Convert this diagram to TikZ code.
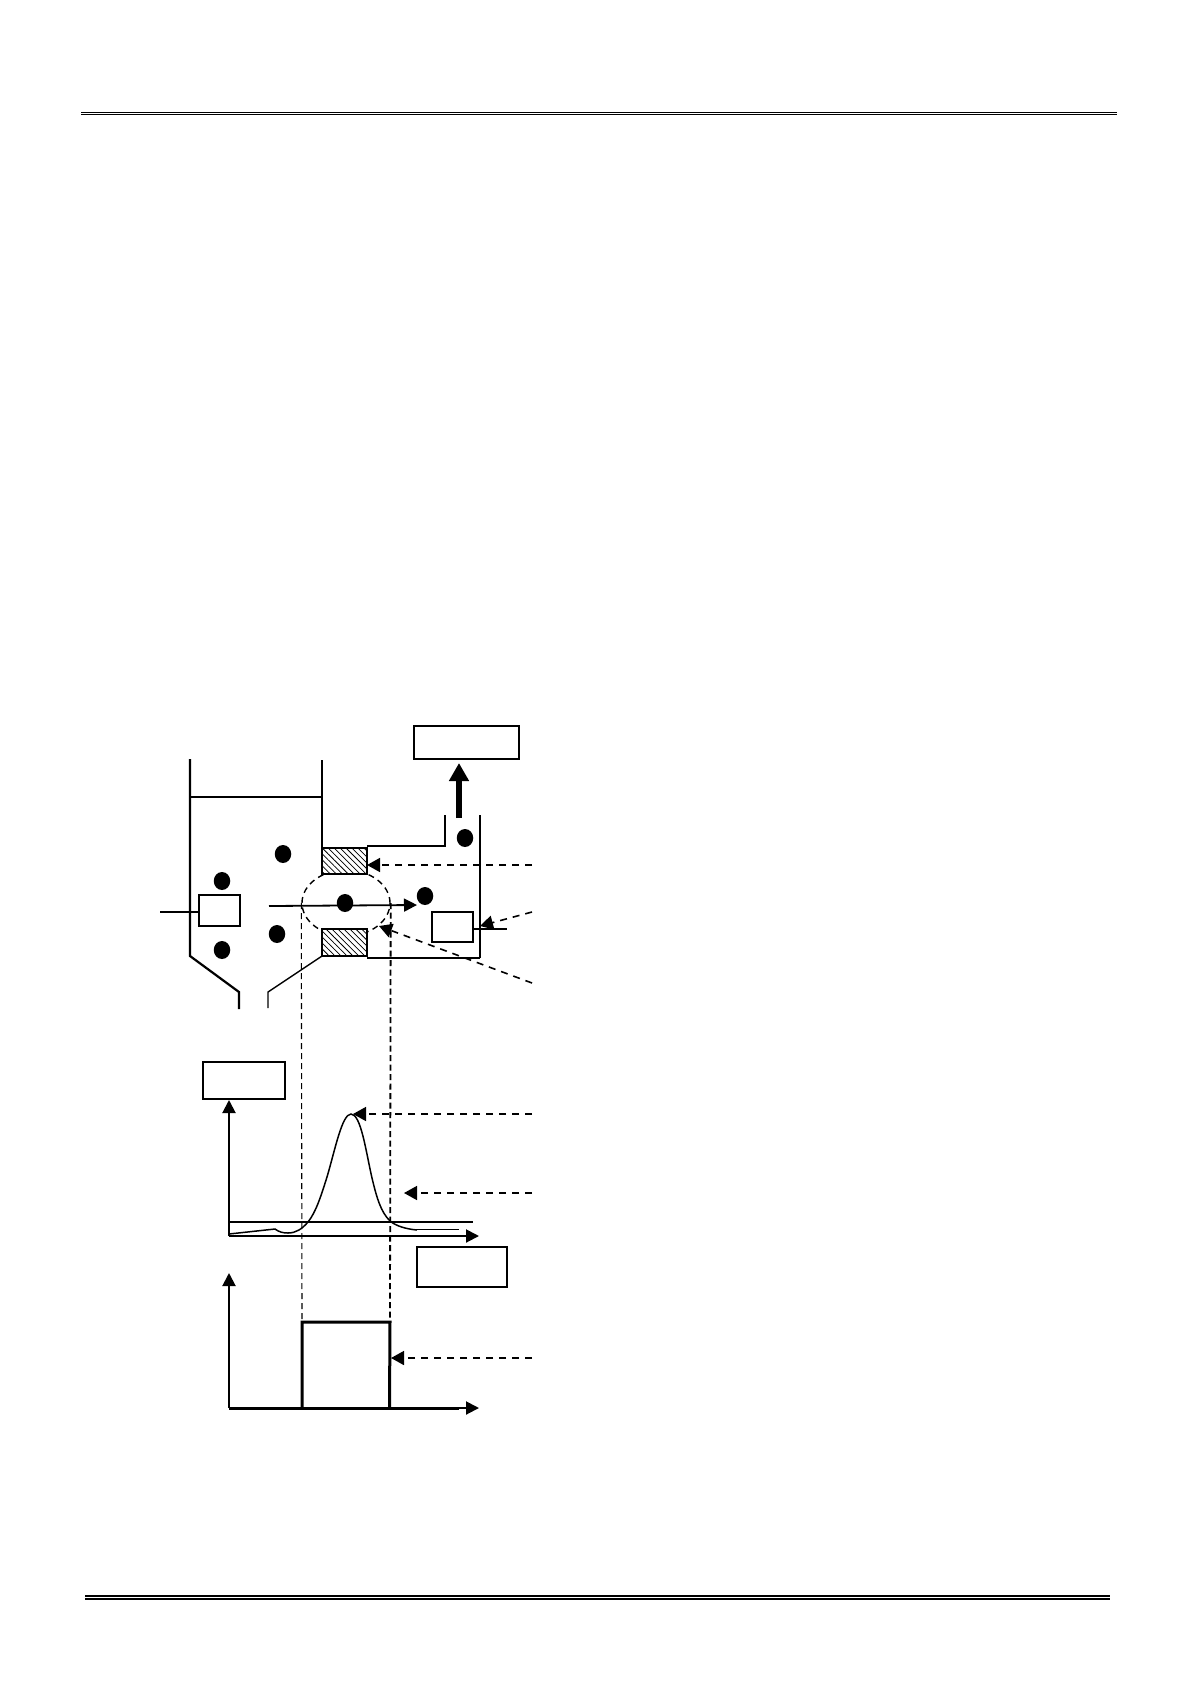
\documentclass[tikz,border=0pt]{standalone}
\usetikzlibrary{arrows.meta,patterns.meta,shapes.geometric}
\tikzset{
  wall/.style={line width=1.4pt,line cap=butt,line join=miter},
  wallthick/.style={line width=2.2pt,line join=miter},
  labelbox/.style={draw,line width=1.4pt,fill=white,inner sep=0pt},
  bead/.style={ellipse,fill=black,inner sep=0pt,minimum width=16.5pt,minimum height=18pt},
  hatch/.style={draw,line width=1.6pt,fill=white,postaction={pattern={Lines[angle=-45,distance=4.2pt,line width=.75pt]}},inner sep=0pt,minimum width=45pt},
  leader/.style={dash pattern=on 7pt off 6pt,line width=1.6pt,-{Triangle[length=13pt,width=14pt]}},
  guide/.style={dash pattern=on 6pt off 4pt,line width=1.1pt},
  guidebold/.style={dash pattern=on 6pt off 3.5pt,line width=1.8pt},
  axis/.style={line width=2pt,-{Triangle[length=13pt,width=13pt]}},
  pulse/.style={line width=3pt,line join=miter},
}
\begin{document}
\begin{tikzpicture}[x=1pt,y=-1pt]
\useasboundingbox (0,0) rectangle (1191,1684);
\fill[white] (0,0) rectangle (1191,1684);

% page rules
\coordinate (hl) at (81,112.4); \coordinate (hr) at (1117,112.4);
\coordinate (hlb) at (81,114.6); \coordinate (hrb) at (1117,114.6);
\coordinate (fl) at (85,1596); \coordinate (fr) at (1110,1596);
\coordinate (flb) at (85,1599.3); \coordinate (frb) at (1110,1599.3);
\draw[line width=1pt] (hl) -- (hr);
\draw[line width=1pt] (hlb) -- (hrb);
\draw[line width=2pt] (fl) -- (fr);
\draw[line width=2pt] (flb) -- (frb);

% tank
\draw[wallthick] (190,759) -- (190,956) -- (239,992) -- (239,1009);
\draw[wall] (322,760) -- (322,848);
\draw[wall] (190,797) -- (322,797);
\draw[wall] (322,956) -- (268,992) -- (268,1008);

% right chamber
\draw[wall] (367,846) -- (445,846) -- (445,815);
\draw[wallthick] (480,815) -- (480,958);
\draw[wall] (480,958) -- (367,958);

% dashed guides and observation zone
\node[ellipse,draw,dash pattern=on 6pt off 4.5pt,line width=1.4pt,minimum width=88pt,minimum height=66pt,inner sep=0pt] (zone) at (346,903) {};
\coordinate (pl) at (302,1322); \coordinate (pr) at (390,1322);
\draw[guide] (zone.west) -- (pl);
\draw[guidebold] (zone.east) -- (pr);

% electrode blocks
\node[hatch,minimum height=26pt] (hatchtop) at (344.5,861) {};
\node[hatch,minimum height=27pt] (hatchbot) at (344.5,942.5) {};

% boxes
\node[labelbox,minimum width=105pt,minimum height=33pt] (boxtop) at (466.5,742.5) {};
\node[labelbox,minimum width=41pt,minimum height=31pt] (boxleft) at (219.5,910.5) {};
\node[labelbox,line width=1.7pt,minimum width=41pt,minimum height=30pt] (boxright) at (452.5,927) {};
\node[labelbox,minimum width=82pt,minimum height=37pt] (boxy) at (244,1080.5) {};
\node[labelbox,minimum width=90pt,minimum height=40pt] (boxx) at (462,1267) {};

% beads
\node[bead] (b1) at (283,854) {};
\node[bead] (b2) at (222,881) {};
\node[bead] (b3) at (425,896) {};
\node[bead] (b4) at (277,934) {};
\node[bead] (b5) at (222,950) {};
\node[bead] (b6) at (465,838) {};

% flow arrow through the orifice
\coordinate (flowstart) at (269,906); \coordinate (flowtip) at (417,905);
\draw[line width=1.8pt,-{Triangle[length=13pt,width=13pt]}] (flowstart) -- (flowtip);
\node[bead] (b7) at (345,903) {};

% leads
\coordinate (leadl) at (160,912); \coordinate (leadr) at (507,929);
\draw[line width=1.5pt] (leadl) -- (boxleft.west |- leadl);
\draw[line width=1.5pt] (boxright.east |- leadr) -- (leadr);

% thick output arrow
\coordinate (outs) at (459,818); \coordinate (oute) at (459,763);
\draw[line width=6pt,-{Triangle[length=18pt,width=19pt]}] (outs) -- (oute);

% leaders from the right
\coordinate (l1) at (532,865); \coordinate (t1) at (367,865);
\coordinate (l2) at (532,912); \coordinate (t2) at (480,926);
\coordinate (l3) at (532,983); \coordinate (t3) at (379,926);
\coordinate (l4) at (532,1114); \coordinate (t4) at (353,1114);
\coordinate (l5) at (532,1193); \coordinate (t5) at (404,1193);
\coordinate (l6) at (532,1358); \coordinate (t6) at (391,1358);
\draw[leader] (l1) -- (t1);
\draw[leader] (l2) -- (t2);
\draw[leader] (l3) -- (t3);
\draw[leader] (l4) -- (t4);
\draw[leader] (l5) -- (t5);
\draw[leader] (l6) -- (t6);

% upper chart
\coordinate (o1) at (229,1236);
\coordinate (y1) at (229,1100);
\coordinate (x1) at (479,1236);
\draw[axis] (o1) -- (y1);
\draw[axis] (o1) -- (x1);
\coordinate (th1) at (229,1222); \coordinate (th2) at (473,1222);
\draw[line width=1.8pt] (th1) -- (th2);
\draw[line width=1.5pt] (229,1234) -- (275,1229)
  .. controls (279,1232) and (283,1233) .. (288,1233)
  .. controls (296,1233) and (302,1229) .. (308,1222)
  .. controls (316,1212) and (321,1196) .. (327,1177)
  .. controls (335,1150) and (342,1114) .. (351,1114)
  .. controls (361,1114) and (366,1152) .. (372,1178)
  .. controls (377,1199) and (381,1212) .. (390,1221)
  .. controls (396,1226) and (406,1229) .. (417,1230);
\draw[line width=.8pt] (417,1229.5) -- (459,1229.5);

% lower chart
\coordinate (o2) at (229,1408);
\coordinate (y2) at (229,1273);
\coordinate (x2) at (479,1408);
\draw[axis] (o2) -- (y2);
\draw[axis] (o2) -- (x2);
\draw[pulse] (302,1408) -- (pl) -- (pr) -- (389.5,1408);
\draw[line width=3pt] (o2) -- (459,1408);
\end{tikzpicture}
\end{document}
